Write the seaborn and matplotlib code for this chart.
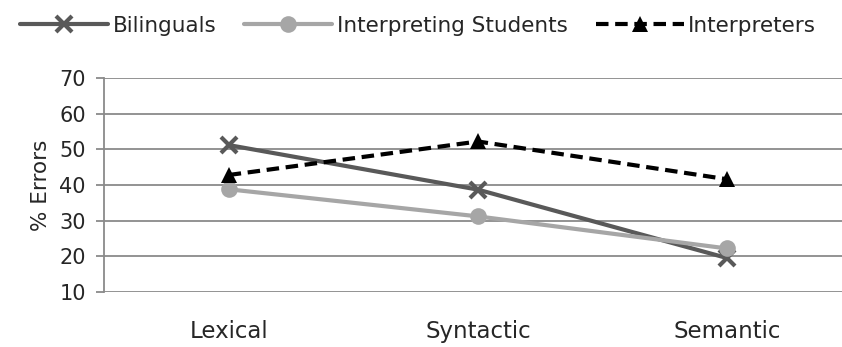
import matplotlib
matplotlib.use("Agg")
import matplotlib.pyplot as plt
import seaborn as sns
import pandas as pd

categories = ["Lexical", "Syntactic", "Semantic"]
bilinguals = [51.2, 38.7, 19.5]
students = [38.8, 31.2, 22.2]
interpreters = [42.8, 52.2, 41.6]
series_names = ["Bilinguals", "Interpreting Students", "Interpreters"]
y_ticks = [10, 20, 30, 40, 50, 60, 70]

df = pd.DataFrame({
    "Category": categories * 3,
    "Errors": bilinguals + students + interpreters,
    "Group": [series_names[0]] * 3 + [series_names[1]] * 3 + [series_names[2]] * 3,
})
df["x"] = df["Category"].map({c: i for i, c in enumerate(categories)})

sns.set_style("white")
plt.rcParams["font.family"] = ["DejaVu Sans"]

fig = plt.figure(figsize=(8.42, 3.47), dpi=100)
ax = fig.add_axes([104 / 842, 1 - 292 / 347, (842 - 104) / 842, (292 - 78) / 347])

styles = {
    "Bilinguals": dict(color="#595959", marker="x", ls="-", ms=11, mew=3),
    "Interpreting Students": dict(color="#a6a6a6", marker="o", ls="-", ms=12, mew=0),
    "Interpreters": dict(color="#000000", marker="^", ls=(0, (3, 1.6)), ms=11, mew=0),
}

for name in series_names:
    st = styles[name]
    sub = df[df["Group"] == name]
    sns.lineplot(data=sub, x="x", y="Errors", ax=ax, color=st["color"],
                 linestyle=st["ls"], linewidth=3, marker=st["marker"],
                 markersize=st["ms"], markeredgewidth=st["mew"],
                 markeredgecolor=st["color"], label=name, zorder=3)

ax.set_xlim(-0.5, 2.46)
ax.set_ylim(10, 70)
ax.set_yticks(y_ticks)
ax.set_xticks(range(len(categories)))
ax.set_xticklabels(categories, fontsize=16.5)
ax.tick_params(axis="y", labelsize=15, length=6, width=1.3, color="#8a8a8a", pad=7, left=True)
ax.tick_params(axis="x", length=0, pad=20)
ax.set_xlabel("")
ax.set_ylabel("% Errors", fontsize=15.5, labelpad=6)
ax.yaxis.grid(True, color="#8a8a8a", linewidth=1.3)
ax.set_axisbelow(True)
for side in ["top", "right", "bottom"]:
    ax.spines[side].set_visible(False)
ax.spines["left"].set_color("#8a8a8a")
ax.spines["left"].set_linewidth(1.3)

ax.legend(loc="center", bbox_to_anchor=((418 - 104) / 738, 1 + (78 - 26) / 214), ncol=3,
          frameon=False, fontsize=15.5, handlelength=4.1, handletextpad=0.2,
          columnspacing=1.3, borderaxespad=0)

fig.savefig("out.png", dpi=100)
